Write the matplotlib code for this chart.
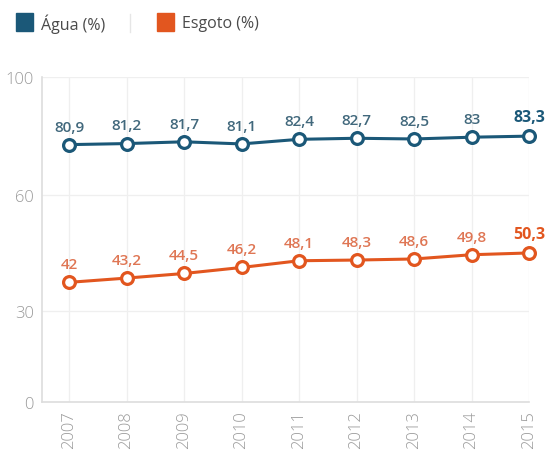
import matplotlib.pyplot as plt
from matplotlib.patches import Rectangle
from matplotlib.lines import Line2D

years = [2007, 2008, 2009, 2010, 2011, 2012, 2013, 2014, 2015]
agua = [80.9, 81.2, 81.7, 81.1, 82.4, 82.7, 82.5, 83.0, 83.3]
esgoto = [42.0, 43.2, 44.5, 46.2, 48.1, 48.3, 48.6, 49.8, 50.3]
ytick_labels = ['0', '30', '60', '100']

BLUE = '#1b5878'
ORANGE = '#e2561f'
BLUE_TXT = '#41687c'
ORANGE_TXT = '#df7654'
GRAY = '#9a9a9a'

plt.rcParams['font.family'] = ['Open Sans', 'DejaVu Sans']

fig = plt.figure(figsize=(5.56, 4.52), dpi=100)
ax = fig.add_axes([0.0755, 0.1084, 0.876, 0.719])


def fmt(v):
    s = f'{v:.1f}'.replace('.', ',')
    return s[:-2] if s.endswith(',0') else s


for vals, col, tcol in [(agua, BLUE, BLUE_TXT), (esgoto, ORANGE, ORANGE_TXT)]:
    ax.plot(years, vals, color=col, lw=2.2, marker='o', ms=8.5,
            mfc='white', mec=col, mew=2.3, zorder=3, clip_on=False)
    for i, (x, v) in enumerate(zip(years, vals)):
        last = i == len(years) - 1
        ax.annotate(fmt(v), (x, v), xytext=(0, 8), textcoords='offset points',
                    ha='center', va='bottom', fontsize=11.5 if last else 11,
                    color=col if last else tcol,
                    fontweight='bold' if last else 'semibold')

# the source chart's axis labels sit at these (uneven) heights
ax.set_ylim(8.2, 100)
ax.set_yticks([8.2, 33.8, 66.8, 100])
ax.set_yticklabels(ytick_labels)
ax.set_xlim(2006.53, 2015)
ax.set_xticks(years)
ax.set_xticklabels([str(y) for y in years], rotation=90)

ax.grid(True, color='#efefef', lw=0.9)
ax.set_axisbelow(True)
for s in ['top', 'right']:
    ax.spines[s].set_visible(False)
for s in ['left', 'bottom']:
    ax.spines[s].set_color('#dddddd')
    ax.spines[s].set_linewidth(1.2)
ax.tick_params(length=0, colors=GRAY, labelsize=12, pad=6)
for lab in ax.get_yticklabels():
    lab.set_fontweight('light')
for lab in ax.get_xticklabels():
    lab.set_fontweight('light')

# legend row
fig.patches.append(Rectangle((16 / 556, 1 - 32 / 452), 17 / 556, 18 / 452,
                             transform=fig.transFigure, color=BLUE))
fig.text(41 / 556, 1 - 24 / 452, 'Água (%)', va='center', fontsize=11.5, color='#4a4a4a')
fig.lines.append(Line2D([130 / 556, 130 / 556], [1 - 33 / 452, 1 - 15 / 452],
                        transform=fig.transFigure, color='#e6e6e6', lw=1))
fig.patches.append(Rectangle((157 / 556, 1 - 32 / 452), 17 / 556, 18 / 452,
                             transform=fig.transFigure, color=ORANGE))
fig.text(182 / 556, 1 - 24 / 452, 'Esgoto (%)', va='center', fontsize=11.5, color='#4a4a4a')

fig.savefig('out.png', dpi=100)
